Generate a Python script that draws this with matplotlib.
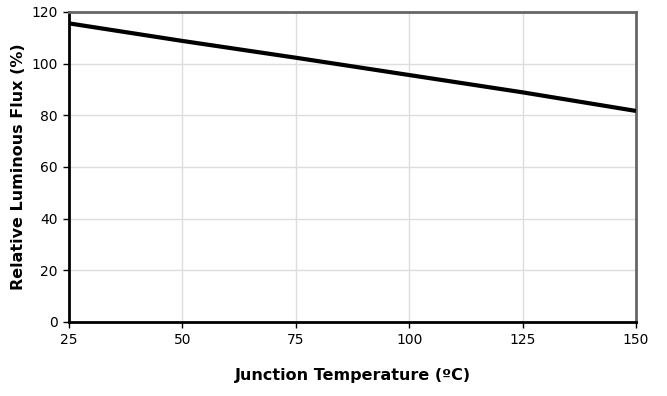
import matplotlib.pyplot as plt

# Junction temperature (C) vs relative luminous flux (%)
temp = [25, 50, 75, 100, 125, 150]
flux = [115.6, 108.8, 102.3, 95.6, 88.9, 81.7]

x_ticks = [25, 50, 75, 100, 125, 150]
y_ticks = [0, 20, 40, 60, 80, 100, 120]

fig = plt.figure(figsize=(6.67, 3.96), dpi=100)
ax = fig.add_axes([0.1034, 0.1869, 0.8501, 0.7828])

ax.plot(temp, flux, color='black', linewidth=3, solid_capstyle='butt', zorder=3)

ax.set_xlim(25, 150)
ax.set_ylim(0, 120)
ax.set_xticks(x_ticks)
ax.set_yticks(y_ticks)
ax.grid(True, color='#dddddd', linewidth=1)
ax.set_axisbelow(True)

for side in ['left', 'bottom']:
    ax.spines[side].set_color('black')
    ax.spines[side].set_linewidth(2)
for side in ['right', 'top']:
    ax.spines[side].set_color('#666666')
    ax.spines[side].set_linewidth(2)

ax.tick_params(direction='out', length=4, width=1, labelsize=10, pad=4)

ax.set_xlabel('Junction Temperature (ºC)', fontsize=11.5, fontweight='bold', labelpad=15)
ax.set_ylabel('Relative Luminous Flux (%)', fontsize=11.5, fontweight='bold', labelpad=4)

fig.savefig('out.png', dpi=100)
